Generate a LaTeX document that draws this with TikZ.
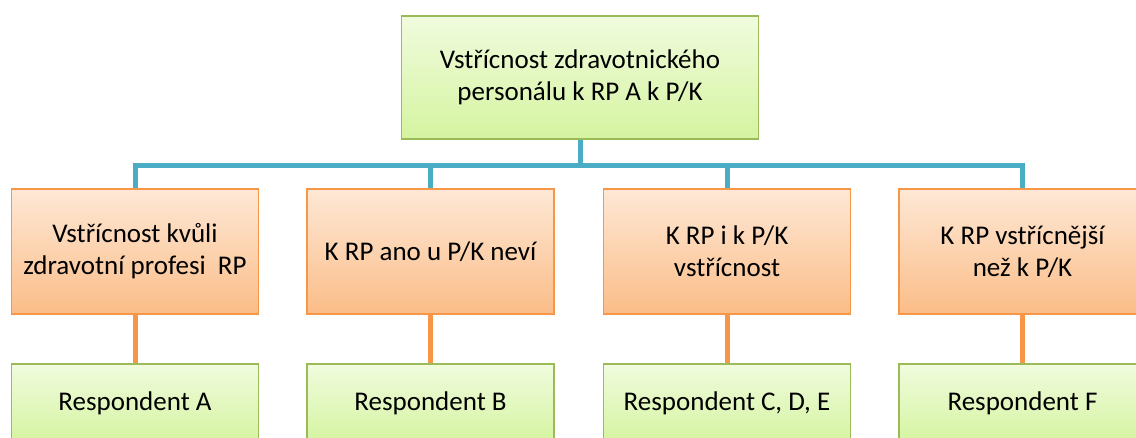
\documentclass[tikz,border=0pt]{standalone}
\usepackage{fontspec}
\setmainfont{Carlito}
\definecolor{limebg}{HTML}{D5F4A0}
\definecolor{greenedge}{HTML}{9BBB59}
\definecolor{orangebg}{HTML}{FBBD88}
\definecolor{orangeedge}{HTML}{F79646}
\definecolor{busblue}{HTML}{4BACC6}
\begin{document}
\begin{tikzpicture}[x=1pt,y=-1pt,
  every node/.style={font=\fontsize{27}{32}\selectfont, align=center, inner sep=0pt},
  greenbox/.style={draw=greenedge, line width=1.2pt,
    top color=limebg!35!white, bottom color=limebg},
  orangebox/.style={draw=orangeedge, line width=1.2pt,
    top color=orangebg!35!white, bottom color=orangebg,
    minimum width=247pt, minimum height=125pt},
  leafbox/.style={greenbox, minimum width=247pt, minimum height=78pt},
  busline/.style={draw=busblue, line width=5pt},
  linkline/.style={draw=orangeedge, line width=5pt}]
\useasboundingbox (0,0) rectangle (1136,437);
\clip (0,0) rectangle (1136,437);
\fill[white] (0,0) rectangle (1136,437);

% root
\node[greenbox, minimum width=357pt, minimum height=123pt] (top) at (580,77.5)
  {Vstřícnost zdravotnického\\personálu k RP A k P/K};

% second level
\node[orangebox] (o1) at (135,251.5) {Vstřícnost kvůli\\zdravotní profesi~ RP};
\node[orangebox] (o2) at (430.5,251.5) {K RP ano u P/K neví};
\node[orangebox] (o3) at (727,251.5) {K RP i k P/K\\vstřícnost};
\node[orangebox] (o4) at (1022.5,251.5) {K RP vstřícnější\\než k P/K};

% respondents
\node[leafbox] (g1) at (135,403) {Respondent A};
\node[leafbox] (g2) at (430.5,403) {Respondent B};
\node[leafbox] (g3) at (727,403) {Respondent C, D, E};
\node[leafbox] (g4) at (1022.5,403) {Respondent F};

% connectors
\coordinate (bus) at (580,165);
\draw[busline] (top.south) -- (bus) -| (o1.north);
\draw[busline] (bus) -| (o2.north);
\draw[busline] (bus) -| (o3.north);
\draw[busline] (bus) -| (o4.north);
\foreach \i in {1,...,4}{
  \draw[linkline] (o\i.south) -- (g\i.north);
}
\end{tikzpicture}
\end{document}
